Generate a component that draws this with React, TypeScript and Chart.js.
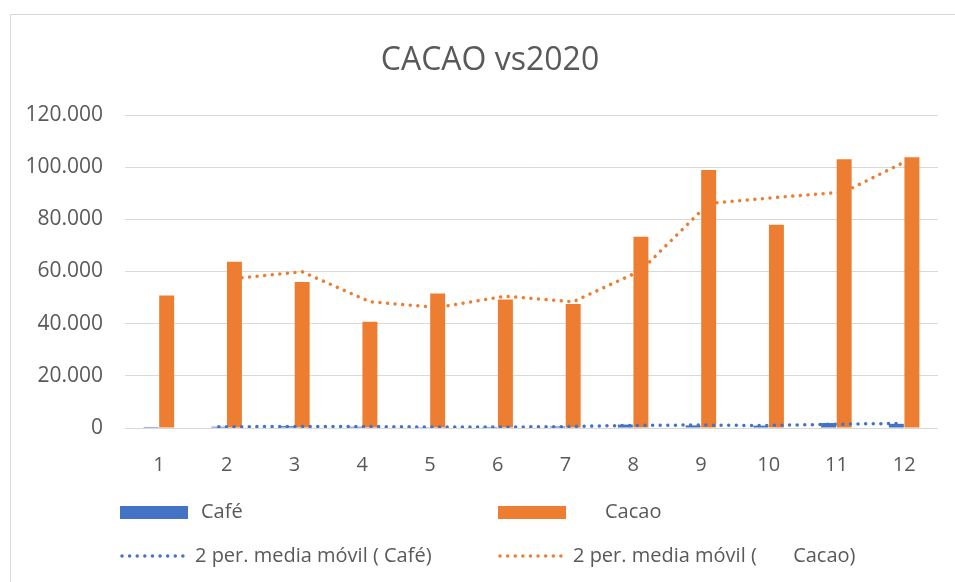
import React, { useEffect, useRef } from "react";
import { Chart, registerables } from "chart.js";

Chart.register(...registerables);

// ---- data ----
const categories = ["1", "2", "3", "4", "5", "6", "7", "8", "9", "10", "11", "12"];
const cafe = [400, 500, 700, 500, 300, 400, 600, 1300, 1000, 900, 1900, 1600];
const cacao = [50800, 63700, 56000, 40700, 51600, 49300, 47500, 73300, 98900, 77900, 103000, 103800];
const cafeMovingAvg = [null, 450, 600, 600, 400, 350, 500, 950, 1150, 950, 1400, 1750];
const cacaoMovingAvg = [null, 57300, 59900, 48400, 46200, 50500, 48400, 60400, 86100, 88400, 90500, 103400];
const yTickValues = [0, 20000, 40000, 60000, 80000, 100000, 120000];
const titleText = "CACAO vs2020";
const seriesNames = ["Café", "     Cacao"];
const trendNames = ["2 per. media móvil ( Café)", "2 per. media móvil (       Cacao)"];

// ---- style ----
const BLUE = "#4472C4";
const ORANGE = "#ED7D31";
const TEXT = "#595959";
const GRID = "#D9D9D9";
const FONT = '"Open Sans", "Noto Sans", sans-serif';
const CAT_PCT = 0.46;
const BAR_PCT = 0.96;
const DOT_DASH = [0.01, 7.6];
const CANVAS_W = 980;
const CANVAS_H = 582;

const fmt = (v: number) =>
  v === 0 ? "0" : String(v).replace(/\B(?=(\d{3})+(?!\d))/g, ".");

const legendPlugin = {
  id: "gridLegend",
  afterDraw(chart: any) {
    const ctx = chart.ctx as CanvasRenderingContext2D;
    const ds = chart.data.datasets;
    const items = [
      { d: ds[0], x: 120, y: 512, kind: "box", gap: 81 },
      { d: ds[1], x: 498, y: 512, kind: "box", gap: 81 },
      { d: ds[2], x: 120, y: 556, kind: "dots", gap: 75 },
      { d: ds[3], x: 498, y: 556, kind: "dots", gap: 75 },
    ];
    ctx.save();
    ctx.font = `20px ${FONT}`;
    ctx.textBaseline = "middle";
    ctx.textAlign = "left";
    for (const it of items) {
      if (it.kind === "box") {
        ctx.fillStyle = it.d.backgroundColor;
        ctx.fillRect(it.x, it.y - 6, 68, 13);
      } else {
        ctx.beginPath();
        ctx.setLineDash(DOT_DASH);
        ctx.lineCap = "round";
        ctx.lineWidth = 3.5;
        ctx.strokeStyle = it.d.borderColor;
        ctx.moveTo(it.x + 2, it.y);
        ctx.lineTo(it.x + 68, it.y);
        ctx.stroke();
        ctx.setLineDash([]);
      }
      ctx.fillStyle = TEXT;
      ctx.fillText(it.d.label, it.x + it.gap, it.y);
    }
    ctx.restore();
  },
};

export default function App() {
  const ref = useRef<HTMLCanvasElement | null>(null);

  useEffect(() => {
    if (!ref.current) return;
    const shift = CAT_PCT / 4;
    const chart = new Chart(ref.current, {
      type: "bar",
      data: {
        datasets: [
          {
            type: "bar",
            label: seriesNames[0],
            data: cafe.map((v, i) => ({ x: i, y: v })) as any,
            backgroundColor: BLUE,
            categoryPercentage: CAT_PCT,
            barPercentage: BAR_PCT,
            order: 2,
          },
          {
            type: "bar",
            label: seriesNames[1],
            data: cacao.map((v, i) => ({ x: i, y: v })) as any,
            backgroundColor: ORANGE,
            categoryPercentage: CAT_PCT,
            barPercentage: BAR_PCT,
            order: 2,
          },
          {
            type: "line",
            label: trendNames[0],
            data: cafeMovingAvg.map((v, i) => ({ x: i - shift, y: v })) as any,
            borderColor: BLUE,
            backgroundColor: BLUE,
            borderWidth: 3.5,
            borderDash: DOT_DASH,
            borderCapStyle: "round",
            pointRadius: 0,
            tension: 0,
            fill: false,
            order: 1,
          },
          {
            type: "line",
            label: trendNames[1],
            data: cacaoMovingAvg.map((v, i) => ({ x: i + shift, y: v })) as any,
            borderColor: ORANGE,
            backgroundColor: ORANGE,
            borderWidth: 3.5,
            borderDash: DOT_DASH,
            borderCapStyle: "round",
            pointRadius: 0,
            tension: 0,
            fill: false,
            order: 1,
          },
        ] as any,
      },
      options: {
        responsive: false,
        animation: false,
        layout: { padding: { left: 0, right: 0, top: 0, bottom: 104 } },
        plugins: {
          legend: { display: false },
          tooltip: { enabled: false },
          title: {
            display: true,
            text: titleText,
            color: TEXT,
            font: { family: FONT, size: 32, weight: "normal" },
            padding: { top: 42, bottom: 34.6 },
          },
        },
        scales: {
          x: {
            type: "linear",
            offset: false,
            min: -0.5,
            max: categories.length - 0.5,
            afterBuildTicks: (s: any) => {
              s.ticks = categories.map((_, i) => ({ value: i }));
            },
            grid: { display: false, offset: false },
            border: { display: false },
            ticks: {
              color: TEXT,
              font: { family: FONT, size: 20 },
              padding: 17,
              autoSkip: false,
              maxRotation: 0,
              callback: (v: any) => categories[Number(v)] ?? "",
            },
            afterFit: (s: any) => {
              s.height = 50;
            },
          },
          y: {
            type: "linear",
            min: yTickValues[0],
            max: yTickValues[yTickValues.length - 1],
            afterBuildTicks: (s: any) => {
              s.ticks = yTickValues.map((v) => ({ value: v }));
            },
            grid: { color: GRID, lineWidth: 1, drawTicks: false },
            border: { display: false },
            ticks: {
              color: TEXT,
              font: { family: FONT, size: 21 },
              padding: 22,
              callback: (v: any) => fmt(Number(v)),
            },
            afterFit: (s: any) => {
              s.width = 125;
            },
          },
          spacer: {
            type: "linear",
            position: "right",
            grid: { display: false },
            border: { display: false },
            ticks: { display: false },
            afterFit: (s: any) => {
              s.width = 42;
            },
          },
        },
      },
      plugins: [legendPlugin],
    });
    return () => chart.destroy();
  }, []);

  return (
    <div
      style={{
        position: "absolute",
        left: 0,
        top: 0,
        width: 955,
        height: 582,
        overflow: "hidden",
        background: "#fff",
      }}
    >
      <div
        style={{
          position: "absolute",
          left: 10,
          top: 14,
          width: 1000,
          height: 600,
          border: `1px solid ${GRID}`,
        }}
      />
      <canvas
        ref={ref}
        width={CANVAS_W}
        height={CANVAS_H}
        style={{ position: "absolute", left: 0, top: 0, width: CANVAS_W, height: CANVAS_H }}
      />
    </div>
  );
}
